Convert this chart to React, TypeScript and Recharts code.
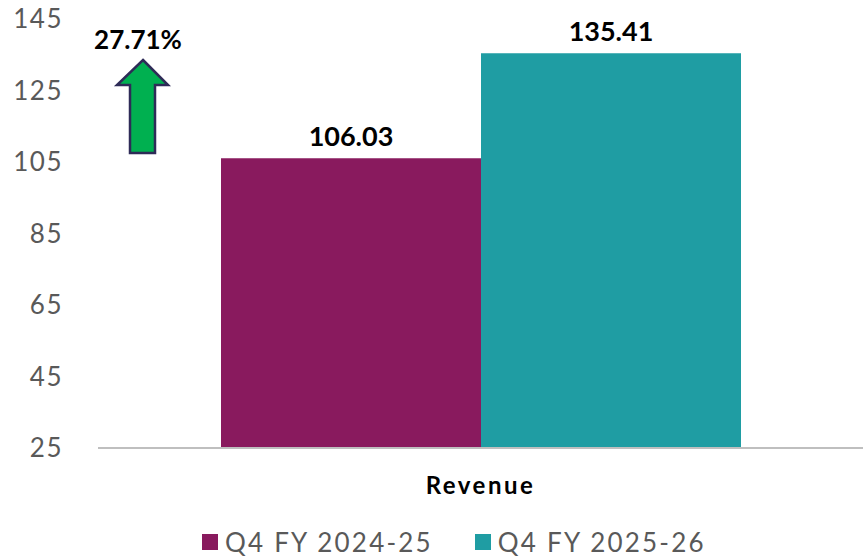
import React from "react";
import { BarChart, Bar, XAxis, YAxis, Legend, LabelList, Customized } from "recharts";

const categories = ["Revenue"];
const prevYear = [106.03];
const currYear = [135.41];
const seriesNames = ["Q4 FY 2024-25", "Q4 FY 2025-26"];
const seriesColors = ["#891A5E", "#1F9DA3"];
const yTicks = [25, 45, 65, 85, 105, 125, 145];
const growthLabel = "27.71%";

const FONT = "Lato, 'DejaVu Sans', sans-serif";

const chartData = categories.map((name, i) => ({
    name,
    prev: prevYear[i],
    curr: currYear[i],
}));

function CategoryTick(props: any) {
    const { x, y, payload } = props;
    return (
        <text x={x} y={y + 44} textAnchor="middle" fontFamily={FONT} fontSize={24} fontWeight={700}
            letterSpacing={2.5} fill="#000">
            {payload.value}
        </text>
    );
}

function GrowthArrow() {
    // up arrow annotation next to the y axis
    const pts = "143,60 168,85 155,85 155,153 130,153 130,85 117,85";
    return (
        <g>
            <text x={138} y={49} textAnchor="middle" fontFamily={FONT} fontSize={26} fontWeight={700} fill="#000">
                {growthLabel}
            </text>
            <polygon points={pts} fill="#00B050" stroke="#2E2B57" strokeWidth={2.5} strokeLinejoin="miter" />
        </g>
    );
}

function LegendContent() {
    return (
        <div style={{ display: "flex", justifyContent: "flex-start", paddingLeft: 202, height: 42, alignItems: "flex-end", paddingBottom: 4, boxSizing: "border-box" }}>
            {seriesNames.map((s, i) => (
                <div key={s} style={{ display: "flex", alignItems: "center", marginRight: i === 0 ? 42 : 0 }}>
                    <span style={{ width: 16, height: 16, background: seriesColors[i], display: "inline-block", marginRight: 7 }} />
                    <span style={{ fontFamily: FONT, fontSize: 26, color: "#595959", letterSpacing: 2.2, lineHeight: "28px" }}>{s}</span>
                </div>
            ))}
        </div>
    );
}

export default function App() {
    return (
        <div style={{ position: "absolute", left: 0, top: 0, width: 863, height: 560, background: "#fff" }}>
            <BarChart width={863} height={560} data={chartData} margin={{ top: 19, right: 0, left: 0, bottom: 0 }}
                barCategoryGap={123} barGap={0}>
                <YAxis domain={[25, 145]} ticks={yTicks} axisLine={false} tickLine={false} tickSize={0} tickMargin={35}
                    width={98} tick={{ fontFamily: FONT, fontSize: 26, fill: "#595959", letterSpacing: 1.5 }} />
                <XAxis dataKey="name" axisLine={{ stroke: "#BFBFBF", strokeWidth: 2 }} tickLine={false} tickSize={0}
                    height={70} tick={<CategoryTick />} />
                <Legend verticalAlign="bottom" content={<LegendContent />} />
                <Bar dataKey="prev" name={seriesNames[0]} fill={seriesColors[0]} isAnimationActive={false}>
                    <LabelList dataKey="prev" position="top" offset={12} fill="#000" fontFamily={FONT} fontSize={27} fontWeight={700}
                        formatter={(v: any) => Number(v).toFixed(2)} />
                </Bar>
                <Bar dataKey="curr" name={seriesNames[1]} fill={seriesColors[1]} isAnimationActive={false}>
                    <LabelList dataKey="curr" position="top" offset={12} fill="#000" fontFamily={FONT} fontSize={27} fontWeight={700}
                        formatter={(v: any) => Number(v).toFixed(2)} />
                </Bar>
                <Customized component={GrowthArrow} />
            </BarChart>
        </div>
    );
}
